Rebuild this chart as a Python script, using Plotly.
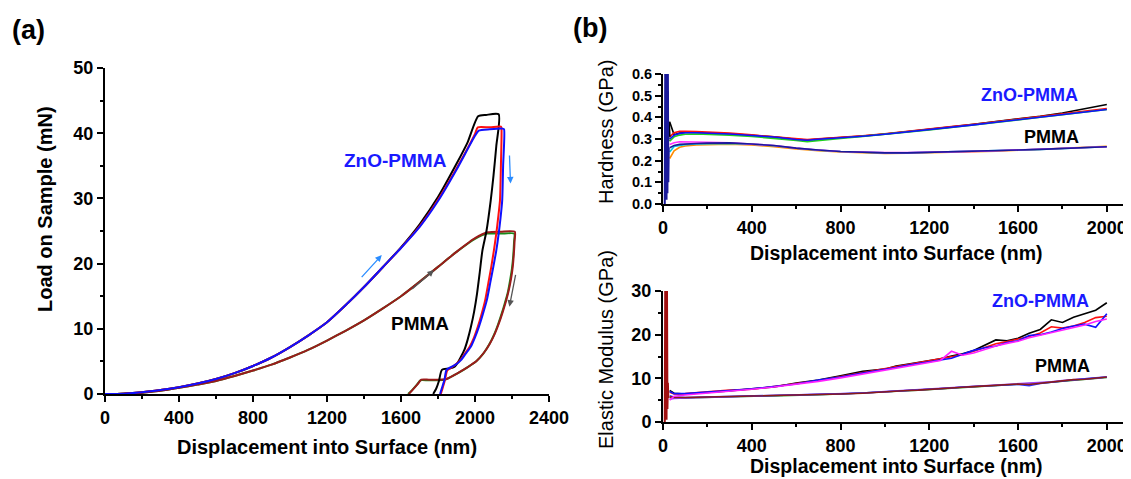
import plotly.graph_objects as go

# ---------------- Panel (a): load-displacement ----------------
zno_black_h = [0,100,200,300,400,500,600,700,800,900,1000,1100,1200,1300,1400,1500,1600,1700,1800,1900,1960,2017,2060,2128,
               2115,2100,2085,2062,2040,2025,2011,1995,1978,1960,1943,1920,1904,1890,1860,1821,1805,1790,1774]
zno_black_L = [0,0.05,0.25,0.6,1.05,1.6,2.3,3.2,4.3,5.6,7.2,9.0,11.0,13.6,16.4,19.4,22.5,26.0,30.2,35.3,38.6,42.6,42.8,42.9,
               38.0,33.5,29.7,25.0,22.0,18.5,15.4,12.6,10.3,8.3,6.8,5.5,4.7,4.2,3.9,3.7,2.0,0.8,0]

zno_red_h = [0,100,200,300,400,500,600,700,800,900,1000,1100,1200,1300,1400,1500,1600,1700,1800,1900,2000,2015,2080,2140,
             2143,2140,2135,2125,2115,2102,2088,2072,2055,2035,2015,1995,1972,1945,1920,1898,1875,1850,1838,1826,1815]
zno_red_L = [0,0.05,0.25,0.6,1.05,1.6,2.3,3.2,4.3,5.6,7.2,9.0,11.0,13.6,16.4,19.4,22.4,25.7,29.8,34.6,39.9,40.9,40.9,41.0,
             40.8,35.0,29.7,27.0,24.6,22.0,19.5,17.0,14.4,12.2,10.3,8.7,7.3,6.2,5.2,4.6,4.1,3.6,2.2,1.0,0]

zno_blue_h = [0,100,200,300,400,500,600,700,800,900,1000,1100,1200,1300,1400,1500,1600,1700,1800,1900,2000,2020,2080,2150,
              2157,2152,2147,2138,2128,2115,2099,2082,2064,2042,2021,2000,1978,1950,1924,1900,1875,1846,1835,1822,1811]
zno_blue_L = [0,0.05,0.25,0.6,1.05,1.6,2.3,3.2,4.3,5.6,7.2,9.0,11.0,13.6,16.4,19.4,22.4,25.6,29.6,34.4,39.6,40.4,40.6,40.7,
              40.6,35.0,29.7,27.0,24.6,22.0,19.5,17.0,14.4,12.2,10.3,8.7,7.3,6.2,5.2,4.6,4.2,3.7,2.2,1.0,0]

pmma_maroon_h = [0,100,200,300,400,500,600,700,800,900,1000,1100,1200,1300,1400,1500,1600,1700,1800,1900,2000,2070,2140,2215,
                 2214,2210,2204,2195,2180,2165,2150,2130,2108,2080,2050,2010,1970,1943,1900,1846,1800,1750,1710,1690,1665,1642]
pmma_maroon_L = [0,0.05,0.2,0.5,0.95,1.45,2.0,2.75,3.6,4.5,5.6,6.8,8.2,9.7,11.3,13.1,15.0,17.2,19.5,21.8,23.9,24.8,24.9,24.9,
                 23.5,21.5,19.5,17.7,15.6,14.0,12.6,10.9,9.3,7.7,6.4,5.1,4.3,3.8,3.1,2.3,2.2,2.2,2.2,1.5,0.7,0]

pmma_green_h = [0,100,200,300,400,500,600,700,800,900,1000,1100,1200,1300,1400,1500,1600,1700,1800,1900,2000,2065,2140,2212,
                2211,2207,2200,2190,2176,2160,2145,2125,2103,2075,2045,2005,1965,1938,1895,1840,1795,1745,1705,1685,1660,1638]
pmma_green_L = [0,0.05,0.2,0.5,0.95,1.45,2.0,2.75,3.6,4.5,5.6,6.8,8.2,9.7,11.3,13.1,15.0,17.2,19.5,21.8,23.8,24.6,24.6,24.6,
                23.3,21.3,19.3,17.5,15.4,13.8,12.4,10.7,9.1,7.5,6.2,5.0,4.2,3.7,3.0,2.2,2.1,2.1,2.1,1.4,0.6,0]

# annotation arrows (tail h, tail L, head h, head L, color)
arrows_a = [(1380, 17.7, 1496, 21.3, "#2a8cff"),
            (2186, 36.8, 2192, 32.3, "#2a8cff"),
            (1652, 15.9, 1778, 19.0, "#555555"),
            (2221, 18.5, 2186, 13.4, "#555555")]

# ---------------- Panel (b) top: hardness ----------------
hx = [30,50,75,100,150,200,300,400,500,600,650,700,800,900,1000,1100,1200,1300,1400,1500,1600,1700,1800,1900,2000]
zno_H_black = [0.38,0.32,0.327,0.33,0.33,0.329,0.324,0.317,0.31,0.299,0.295,0.300,0.306,0.314,0.323,0.333,0.345,0.356,0.368,0.380,0.392,0.405,0.420,0.438,0.459]
zno_H_red = [0.31,0.329,0.335,0.336,0.334,0.332,0.327,0.319,0.311,0.301,0.297,0.301,0.307,0.315,0.324,0.334,0.346,0.357,0.368,0.380,0.392,0.404,0.417,0.429,0.441]
zno_H_green = [0.29,0.31,0.318,0.322,0.323,0.322,0.318,0.312,0.304,0.293,0.288,0.294,0.303,0.312,0.321,0.331,0.342,0.353,0.364,0.376,0.388,0.400,0.412,0.424,0.436]
zno_H_blue = [0.30,0.318,0.326,0.329,0.329,0.328,0.323,0.316,0.309,0.298,0.294,0.299,0.305,0.313,0.322,0.332,0.344,0.354,0.365,0.377,0.389,0.400,0.412,0.424,0.436]
pmma_H_orange = [0.21,0.245,0.262,0.268,0.272,0.274,0.276,0.272,0.265,0.254,0.249,0.246,0.240,0.235,0.233,0.234,0.236,0.238,0.241,0.244,0.248,0.252,0.256,0.261,0.266]
pmma_H_cyan = [0.24,0.265,0.27,0.274,0.277,0.279,0.28,0.276,0.269,0.257,0.252,0.248,0.242,0.238,0.236,0.236,0.238,0.240,0.242,0.245,0.249,0.252,0.256,0.260,0.264]
pmma_H_magenta = [0.275,0.283,0.287,0.287,0.286,0.285,0.283,0.278,0.27,0.258,0.253,0.249,0.242,0.238,0.237,0.237,0.238,0.240,0.243,0.246,0.249,0.252,0.256,0.260,0.264]
pmma_H_navy = [0.26,0.27,0.275,0.277,0.279,0.281,0.282,0.277,0.27,0.258,0.253,0.249,0.242,0.238,0.236,0.236,0.238,0.240,0.242,0.245,0.249,0.252,0.256,0.260,0.264]
spike_H_x = [8,10,12,14,16,18,20,22,24,26]
spike_H_navy = [0,0.6,0.02,0.6,0.02,0.6,0.05,0.6,0.1,0.26]
spike_H_black_x = [20,22,25,28,31]
spike_H_black = [0.30,0.52,0.29,0.38,0.31]

# ---------------- Panel (b) bottom: elastic modulus ----------------
ex = [30,50,100,200,300,400,500,600,700,800,900,1000,1050,1100,1150,1200,1250,1300,1350,1400,1450,1500,1550,1600,1650,1700,1750,1800,1850,1900,1950,2000]
zno_E_black = [7.2,6.6,6.4,6.7,7.1,7.6,8.0,8.9,9.6,10.6,11.6,12.1,12.8,13.2,13.6,14.1,14.5,15.1,15.6,16.4,17.6,18.8,18.6,19.2,20.3,21.2,23.4,22.8,24.0,24.8,25.6,27.3]
zno_E_red = [6.8,6.4,6.5,6.9,7.3,7.5,8.1,8.8,9.5,10.4,11.3,12.3,12.7,13.1,13.5,14.1,14.4,14.9,15.4,16.2,17.1,17.9,18.4,19.0,19.6,20.4,21.8,21.5,22.0,22.8,23.9,24.2]
zno_E_blue = [7.0,6.5,6.5,6.8,7.2,7.6,8.1,8.7,9.6,10.3,11.2,12.0,12.5,13.0,13.4,13.7,14.2,14.6,15.5,16.4,17.0,17.4,18.2,18.6,19.8,20.0,20.6,21.4,22.0,22.4,21.7,24.8]
zno_E_magenta = [5.0,5.9,6.2,6.6,7.0,7.5,8.0,8.6,9.3,10.1,11.0,12.0,12.4,12.8,13.3,13.8,14.1,16.2,15.3,15.8,16.6,17.4,18.0,18.5,19.3,19.9,20.5,21.0,21.6,22.2,23.0,23.6]
pmma_E_maroon = [5.8,5.6,5.6,5.7,5.8,5.9,6.0,6.1,6.3,6.4,6.6,6.95,7.05,7.2,7.3,7.5,7.7,7.85,7.95,8.1,8.25,8.4,8.5,8.7,8.6,8.9,9.2,9.4,9.7,9.8,10.0,10.3]
pmma_E_green = [5.6,5.5,5.5,5.6,5.7,5.85,5.95,6.05,6.25,6.4,6.6,6.9,7.0,7.15,7.3,7.45,7.6,7.8,7.9,8.05,8.2,8.35,8.5,8.6,8.7,8.85,9.1,9.35,9.6,9.8,10.0,10.2]
pmma_E_blue = [6.0,5.7,5.6,5.7,5.8,5.9,6.0,6.1,6.25,6.45,6.65,6.9,7.05,7.15,7.35,7.5,7.65,7.8,8.0,8.1,8.3,8.4,8.55,8.6,8.3,8.8,9.1,9.4,9.6,9.9,10.1,10.3]
pmma_E_purple = [5.2,5.4,5.5,5.65,5.75,5.9,6.0,6.1,6.3,6.45,6.65,6.95,7.1,7.2,7.35,7.5,7.7,7.85,8.0,8.15,8.3,8.45,8.55,8.7,8.75,8.9,9.2,9.5,9.65,9.85,10.05,10.3]
spike_E_x = [8,10,12,14,16,18,20,22,24]
spike_E_maroon = [0,30,0.5,30,0.5,30,3,9,5.5]

FONT = "Liberation Sans, Arial, sans-serif"
W, H = 1131, 479
OFF = 8  # page body margin offset

fig = go.Figure()

def add(x, y, color, xa="x", ya="y", width=2.0, shape="linear"):
    fig.add_trace(go.Scatter(x=x, y=y, mode="lines",
                             line=dict(color=color, width=width, shape=shape,
                                       smoothing=0.6 if shape == "spline" else None),
                             xaxis=xa, yaxis=ya, showlegend=False, hoverinfo="skip"))

# panel a
add(pmma_green_h, pmma_green_L, "#1a8a1a", shape="spline")
add(pmma_maroon_h, pmma_maroon_L, "#9b1b1b", shape="spline")
add(zno_black_h, zno_black_L, "#000000", shape="spline")
add(zno_red_h, zno_red_L, "#ff1010", shape="spline")
add(zno_blue_h, zno_blue_L, "#1010ff", shape="spline")

# panel b top
for yv, c in [(pmma_H_orange, "#ff8c00"), (pmma_H_cyan, "#00c8e0"), (pmma_H_magenta, "#ff30ff"), (pmma_H_navy, "#1a1a9a"),
              (zno_H_black, "#000000"), (zno_H_red, "#ff1010"), (zno_H_green, "#20d020"), (zno_H_blue, "#1010ff")]:
    add(hx, yv, c, "x2", "y2", 1.6)
add(spike_H_black_x, spike_H_black, "#000000", "x2", "y2", 1.5)
add(spike_H_x, spike_H_navy, "#1a1a9a", "x2", "y2", 2.0)

# panel b bottom
for yv, c in [(pmma_E_green, "#1a8a1a"), (pmma_E_purple, "#a040ff"), (pmma_E_blue, "#3030ff"), (pmma_E_maroon, "#8b1a1a"),
              (zno_E_black, "#000000"), (zno_E_red, "#ff1010"), (zno_E_blue, "#1010ff"), (zno_E_magenta, "#ff20ff")]:
    add(ex, yv, c, "x3", "y3", 1.6)
add(spike_E_x, spike_E_maroon, "#a01010", "x3", "y3", 2.0)

def px_x(p):
    return (p - OFF) / W

def px_y(p):
    return (H - (p - OFF)) / H

tickfont = dict(family=FONT, size=18, color="black", weight="bold")
common = dict(showline=True, linecolor="black", linewidth=2, ticks="outside", ticklen=6, tickwidth=2,
              tickcolor="black", showgrid=False, zeroline=False, tickfont=tickfont, automargin=False)
minor_style = dict(ticks="outside", ticklen=3, tickwidth=1.5, tickcolor="black", showgrid=False)

fig.update_layout(
    width=W, height=H, margin=dict(l=0, r=0, t=0, b=0, autoexpand=False),
    paper_bgcolor="white", plot_bgcolor="white",
    xaxis=dict(domain=[px_x(105), px_x(549)], range=[0, 2400], tickvals=[0,400,800,1200,1600,2000,2400],
               minor=dict(dtick=200, **minor_style), anchor="y", **common),
    yaxis=dict(domain=[px_y(394), px_y(68)], range=[0, 50], dtick=10,
               minor=dict(dtick=5, **minor_style), anchor="x", **common),
    xaxis2=dict(domain=[px_x(663), px_x(1129)], range=[0, 2100], tickvals=[0,400,800,1200,1600,2000],
                minor=dict(dtick=200, **minor_style), anchor="y2", **common),
    yaxis2=dict(domain=[px_y(204), px_y(74)], range=[0, 0.6], dtick=0.1, tickformat=".1f",
                minor=dict(dtick=0.05, **minor_style), anchor="x2",
                **{**common, "tickfont": dict(family=FONT, size=14.5, color="black", weight="bold")}),
    xaxis3=dict(domain=[px_x(663), px_x(1129)], range=[0, 2100], tickvals=[0,400,800,1200,1600,2000],
                minor=dict(dtick=200, **minor_style), anchor="y3", **common),
    yaxis3=dict(domain=[px_y(422), px_y(291)], range=[0, 30], dtick=10,
                minor=dict(dtick=5, **minor_style), anchor="x3", **common),
)

ann = []
def text(x, y, s, size, bold=True, angle=0, color="black", xref="paper", yref="paper"):
    ann.append(dict(x=x, y=y, xref=xref, yref=yref, text=s, showarrow=False, textangle=angle,
                    xanchor="center", yanchor="middle",
                    font=dict(family=FONT, size=size, color=color, weight="bold" if bold else "normal")))

text(px_x(28), px_y(30), "(a)", 27)
text(px_x(590), px_y(28), "(b)", 27)
text(px_x(327), px_y(447), "Displacement into Surface (nm)", 20)
text(px_x(45), px_y(209), "Load on Sample (mN)", 20, angle=-90)
text(px_x(896), px_y(253), "Displacement into Surface (nm)", 19.5)
text(px_x(896), px_y(466), "Displacement into Surface (nm)", 19.5)
text(px_x(606), px_y(132), "Hardness (GPa)", 20, bold=False, angle=-90)
text(px_x(606), px_y(350), "Elastic Modulus (GPa)", 20, bold=False, angle=-90)

text(1570, 35.8, "ZnO-PMMA", 19, color="#1a1aff", xref="x", yref="y")
text(1700, 10.8, "PMMA", 19, xref="x", yref="y")
text(1650, 0.502, "ZnO-PMMA", 18, color="#1a1aff", xref="x2", yref="y2")
text(1752, 0.309, "PMMA", 18, xref="x2", yref="y2")
text(1700, 27.7, "ZnO-PMMA", 18, color="#1a1aff", xref="x3", yref="y3")
text(1800, 12.8, "PMMA", 18, xref="x3", yref="y3")

for (tx, ty, hx_, hy_, c) in arrows_a:
    ann.append(dict(x=hx_, y=hy_, ax=tx, ay=ty, xref="x", yref="y", axref="x", ayref="y",
                    showarrow=True, arrowhead=2, arrowsize=1, arrowwidth=1.3, arrowcolor=c, text=""))

fig.update_layout(annotations=ann)
fig.write_html("out.html")
